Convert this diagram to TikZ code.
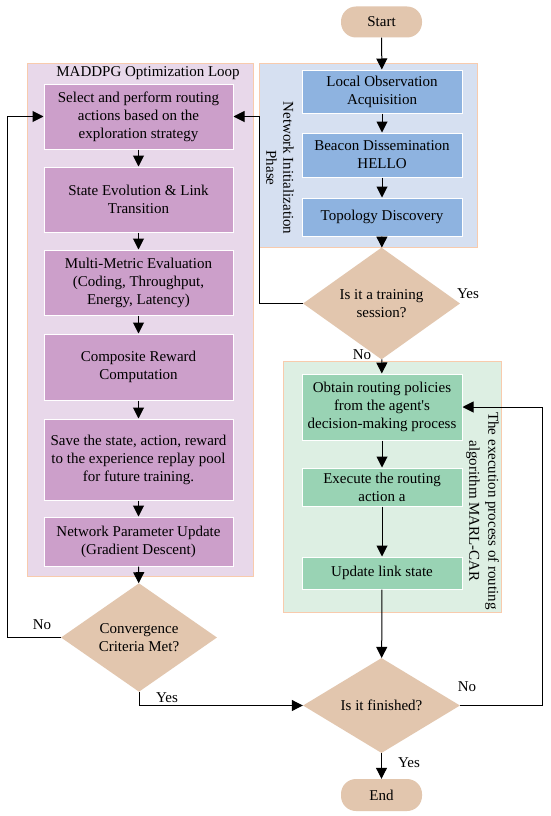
\documentclass[tikz,border=0pt]{standalone}
\usepackage{fontspec}
\setmainfont{Liberation Serif}
\usetikzlibrary{shapes.geometric,arrows.meta}
\definecolor{beige}{RGB}{226,198,174}
\definecolor{purpbox}{RGB}{204,159,202}
\definecolor{purplight}{RGB}{232,216,234}
\definecolor{bluebox}{RGB}{142,179,224}
\definecolor{bluelight}{RGB}{214,224,241}
\definecolor{greenbox}{RGB}{153,211,180}
\definecolor{greenlight}{RGB}{221,239,227}
\definecolor{peach}{RGB}{248,203,173}
\begin{document}
\begin{tikzpicture}[x=1pt,y=-1pt,
  every node/.style={font=\fontsize{15}{18}\selectfont, inner sep=0pt},
  container/.style={draw=peach, line width=0.8pt},
  procbox/.style={draw=white, line width=1pt, align=center, minimum width=#1},
  procbox/.default=189,
  decision/.style={diamond, fill=beige, align=center},
  term/.style={rectangle, rounded corners=15pt, fill=beige, minimum width=81, minimum height=31},
  arr/.style={-{Triangle[width=11pt,length=11pt]}, line width=1pt},
  lbl/.style={}
]
\useasboundingbox (0,0) rectangle (550,816);
\fill[white] (0,0) rectangle (550,816);

% containers
\node[container, fill=purplight, minimum width=226, minimum height=513] (mloop) at (140,319.5) {};
\node[container, fill=bluelight, minimum width=218, minimum height=184] (init) at (368,155) {};
\node[container, fill=greenlight, minimum width=218, minimum height=251] (exec) at (392,486.5) {};

\node (mtitle) at (148,73) {MADDPG Optimization Loop};
\node[rotate=-90, align=center, font=\fontsize{15}{17}\selectfont] (inittitle) at (280,168) {Network Initialization\\Phase};
\node[rotate=-90, align=center, font=\fontsize{15}{19}\selectfont] (exectitle) at (482.5,511) {The execution process of routing\\algorithm MARL-CAR};

% MADDPG boxes
\node[procbox, fill=purpbox, minimum height=65] (b1) at (138.5,116.5) {Select and perform routing\\actions based on the\\exploration strategy};
\node[procbox, fill=purpbox, minimum height=65] (b2) at (138.5,199.5) {State Evolution \& Link\\Transition};
\node[procbox, fill=purpbox, minimum height=65] (b3) at (138.5,282.5) {Multi-Metric Evaluation\\(Coding, Throughput,\\Energy, Latency)};
\node[procbox, fill=purpbox, minimum height=66] (b4) at (138.5,367) {Composite Reward\\Computation};
\node[procbox, fill=purpbox, minimum height=81] (b5) at (138.5,459.5) {Save the state, action, reward\\to the experience replay pool\\for future training.};
\node[procbox, fill=purpbox, minimum height=49] (b6) at (138.5,541.5) {Network Parameter Update\\(Gradient Descent)};

% init boxes
\node[term] (start) at (381.5,22) {Start};
\node[procbox=160, fill=bluebox, minimum height=43] (loc) at (382,91.5) {Local Observation\\Acquisition};
\node[procbox=160, fill=bluebox, minimum height=44] (bea) at (382,155) {Beacon Dissemination\\HELLO};
\node[procbox=160, fill=bluebox, minimum height=38] (top) at (382,217) {Topology Discovery};

% decisions
\node[decision, minimum width=157, minimum height=93] (train) at (381.5,303.5) {Is it a training\\session?};
\node[decision, minimum width=156, minimum height=101] (conv) at (139,637.5) {Convergence\\Criteria Met?};
\node[decision, minimum width=157, minimum height=95] (fin) at (381.5,705.5) {Is it finished?};

% exec boxes
\node[procbox=160, fill=greenbox, minimum height=66] (obt) at (382,407) {Obtain routing policies\\from the agent\textquotesingle s\\decision-making process};
\node[procbox=160, fill=greenbox, minimum height=38] (exa) at (382,487) {Execute the routing\\action a};
\node[procbox=160, fill=greenbox, minimum height=32] (upd) at (382,573) {Update link state};

\node[term, minimum height=32] (end) at (381.5,795) {End};

% corner coordinates
\coordinate (cL) at (7,0);
\coordinate (cM) at (259,0);
\coordinate (cR) at (542,0);

% arrows
\draw[arr] (start) -- (loc);
\draw[arr] (loc) -- (bea);
\draw[arr] (bea) -- (top);
\draw[arr] (top) -- (train);
\draw[arr] (train) -- (obt);
\draw[arr] (obt) -- (exa);
\draw[arr] (exa) -- (upd);
\draw[arr] (upd) -- (fin);
\draw[arr] (fin) -- (end);

\draw[arr] (b1) -- (b2);
\draw[arr] (b2) -- (b3);
\draw[arr] (b3) -- (b4);
\draw[arr] (b4) -- (b5);
\draw[arr] (b5) -- (b6);
\draw[arr] (b6) -- (conv);

\draw[arr] (conv.west) -- (conv.west -| cL) |- (b1.west);
\draw[arr] (train.west) -- (train.west -| cM) |- (b1.east);
\draw[arr] (conv.south) |- (fin.west);
\draw[arr] (fin.east) -- (fin.east -| cR) |- (obt.east);

% labels
\node[lbl] (ytrain) at (468,294) {Yes};
\node[lbl] (ntrain) at (362,355) {No};
\node[lbl] (nconv) at (42,625) {No};
\node[lbl] (yconv) at (167,698) {Yes};
\node[lbl] (nfin) at (467,687) {No};
\node[lbl] (yfin) at (409,763) {Yes};
\end{tikzpicture}
\end{document}
